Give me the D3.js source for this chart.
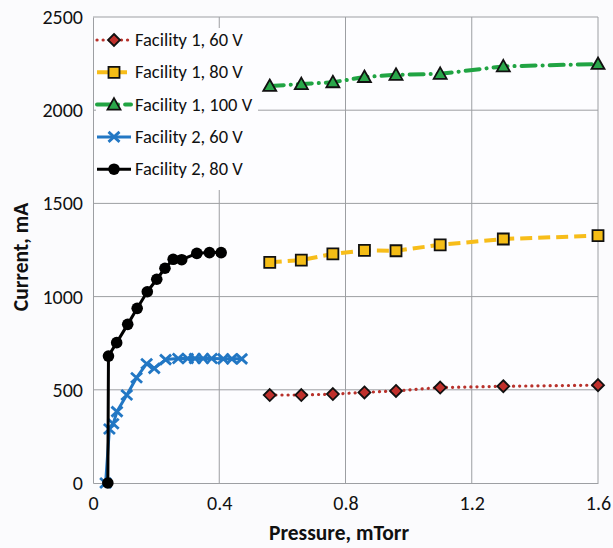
<!DOCTYPE html>
<html lang="en">
<head>
<meta charset="UTF-8">
<title>Current vs Pressure</title>
<script src="https://d3js.org/d3.v7.min.js"></script>
<style>
  body { margin: 0; background: #fbfbfd; }
  svg { display: block; }
  text { font-family: Carlito, "Liberation Sans", "Open Sans", sans-serif; fill: #111; }
</style>
</head>
<body>
<div id="chart"></div>
<script>
// data
const f1_60_x = [0.56, 0.66, 0.76, 0.86, 0.96, 1.1, 1.3, 1.6];
const f1_60_y = [472, 472, 477, 486, 494, 512, 519, 525];

const f1_80_x = [0.56, 0.66, 0.76, 0.86, 0.96, 1.1, 1.3, 1.6];
const f1_80_y = [1184, 1196, 1229, 1248, 1246, 1278, 1309, 1327];

const f1_100_x = [0.56, 0.66, 0.76, 0.86, 0.96, 1.1, 1.3, 1.6];
const f1_100_y = [2130, 2140, 2150, 2178, 2190, 2195, 2235, 2248];

const f2_60_x = [0.04, 0.052, 0.064, 0.076, 0.107, 0.138, 0.17, 0.194, 0.23, 0.27, 0.3, 0.323, 0.349, 0.376, 0.413, 0.44, 0.471];
const f2_60_y = [0, 290, 318, 383, 472, 565, 640, 615, 662, 668, 668, 668, 668, 668, 666, 666, 666];

const f2_80_x = [0.047, 0.049, 0.075, 0.11, 0.14, 0.172, 0.202, 0.228, 0.254, 0.281, 0.329, 0.369, 0.406];
const f2_80_y = [0, 681, 753, 851, 937, 1026, 1093, 1152, 1200, 1198, 1232, 1236, 1236];

const seriesNames = ["Facility 1, 60 V", "Facility 1, 80 V", "Facility 1, 100 V", "Facility 2, 60 V", "Facility 2, 80 V"];
const xTicks = [0, 0.4, 0.8, 1.2, 1.6];
const yTicks = [0, 500, 1000, 1500, 2000, 2500];

const series = [
  { name: seriesNames[0], xs: f1_60_x, ys: f1_60_y, color: "#b8312b", fill: "#c0302c", width: 3.2, dash: "0.1 6", cap: "round", marker: "diamond" },
  { name: seriesNames[1], xs: f1_80_x, ys: f1_80_y, color: "#f7bd1a", fill: "#f5bd16", width: 4, dash: "12 6", cap: "butt", marker: "square" },
  { name: seriesNames[2], xs: f1_100_x, ys: f1_100_y, color: "#21a443", fill: "#2aa74a", width: 4, dash: "14 7 0.1 7", cap: "round", marker: "triangle" },
  { name: seriesNames[3], xs: f2_60_x, ys: f2_60_y, color: "#2277c4", fill: "#2277c4", width: 3, dash: null, cap: "butt", marker: "cross" },
  { name: seriesNames[4], xs: f2_80_x, ys: f2_80_y, color: "#000", fill: "#000", width: 3, dash: null, cap: "butt", marker: "circle" }
];

const W = 613, H = 548;
const margin = { top: 17, right: 15, bottom: 65, left: 93 };
const width = W - margin.left - margin.right;
const height = H - margin.top - margin.bottom;

const svg = d3.select("#chart").append("svg")
  .attr("width", W).attr("height", H);

const g = svg.append("g")
  .attr("transform", `translate(${margin.left},${margin.top})`);

const x = d3.scaleLinear().domain([0, 1.6]).range([0, width]);
const y = d3.scaleLinear().domain([0, 2500]).range([height, 0]);

g.append("rect").attr("width", width).attr("height", height).attr("fill", "#fdfdff");

// grid
g.append("g").selectAll("line").data(xTicks.slice(1)).join("line")
  .attr("x1", d => x(d)).attr("x2", d => x(d))
  .attr("y1", 0).attr("y2", height)
  .attr("stroke", "#9d9fa3").attr("stroke-width", 1);
g.append("g").selectAll("line").data(yTicks.slice(1)).join("line")
  .attr("x1", 0).attr("x2", width)
  .attr("y1", d => y(d)).attr("y2", d => y(d))
  .attr("stroke", "#9d9fa3").attr("stroke-width", 1);

// axes
const xAxis = g.append("g")
  .attr("transform", `translate(0,${height})`)
  .call(d3.axisBottom(x).tickValues(xTicks).tickFormat(d3.format("")).tickSize(0).tickPadding(13));
const yAxis = g.append("g")
  .call(d3.axisLeft(y).tickValues(yTicks).tickFormat(d3.format("d")).tickSize(0).tickPadding(10));
[xAxis, yAxis].forEach(a => {
  a.select(".domain").attr("stroke", "#9d9fa3");
  a.selectAll("text").attr("font-size", 20).style("font-family", "Carlito, 'Liberation Sans', sans-serif").attr("fill", "#111");
});

// axis titles
svg.append("text")
  .attr("x", 339).attr("y", 540)
  .attr("text-anchor", "middle").attr("font-size", 21.5).attr("font-weight", "bold")
  .text("Pressure, mTorr");
svg.append("text")
  .attr("transform", `translate(28,257) rotate(-90)`)
  .attr("text-anchor", "middle").attr("font-size", 21.5).attr("font-weight", "bold")
  .text("Current, mA");

function markerPath(type) {
  if (type === "diamond") return "M0,-6L6,0L0,6L-6,0Z";
  if (type === "square") return "M-5.5,-5.5H5.5V5.5H-5.5Z";
  if (type === "triangle") return "M0,-6.5L6.5,5L-6.5,5Z";
  if (type === "cross") return "M-5.5,-5L5.5,5M-5.5,5L5.5,-5";
  return null;
}

function drawMarker(sel, s) {
  if (s.marker === "circle") {
    sel.append("circle").attr("r", 5.8).attr("fill", "#000");
  } else if (s.marker === "cross") {
    sel.append("path").attr("d", markerPath("cross"))
      .attr("stroke", s.color).attr("stroke-width", 2.8).attr("fill", "none");
  } else {
    sel.append("path").attr("d", markerPath(s.marker))
      .attr("fill", s.fill).attr("stroke", "#111").attr("stroke-width", 1.8);
  }
}

const line = d3.line().x(d => x(d[0])).y(d => y(d[1]));

series.forEach(s => {
  const pts = s.xs.map((v, i) => [v, s.ys[i]]);
  const sg = g.append("g");
  sg.append("path").datum(pts)
    .attr("d", line)
    .attr("fill", "none")
    .attr("stroke", s.color)
    .attr("stroke-width", s.width)
    .attr("stroke-linecap", s.cap)
    .attr("stroke-linejoin", "round")
    .attr("stroke-dasharray", s.dash);
  sg.selectAll("g.pt").data(pts).join("g")
    .attr("class", "pt")
    .attr("transform", d => `translate(${x(d[0])},${y(d[1])})`)
    .each(function () { drawMarker(d3.select(this), s); });
});

// legend
const legend = svg.append("g").attr("transform", "translate(96,28)");
legend.append("rect").attr("width", 162).attr("height", 162).attr("fill", "#fdfdff");
series.forEach((s, i) => {
  const row = legend.append("g").attr("transform", `translate(0,${12 + i * 32.3})`);
  row.append("line")
    .attr("x1", 1).attr("x2", 35)
    .attr("stroke", s.color).attr("stroke-width", s.width)
    .attr("stroke-linecap", s.cap)
    .attr("stroke-dasharray", s.dash);
  drawMarker(row.append("g").attr("transform", "translate(18,0)"), s);
  row.append("text").attr("x", 39).attr("y", 6)
    .attr("font-size", 18.5).text(s.name);
});
</script>
</body>
</html>
